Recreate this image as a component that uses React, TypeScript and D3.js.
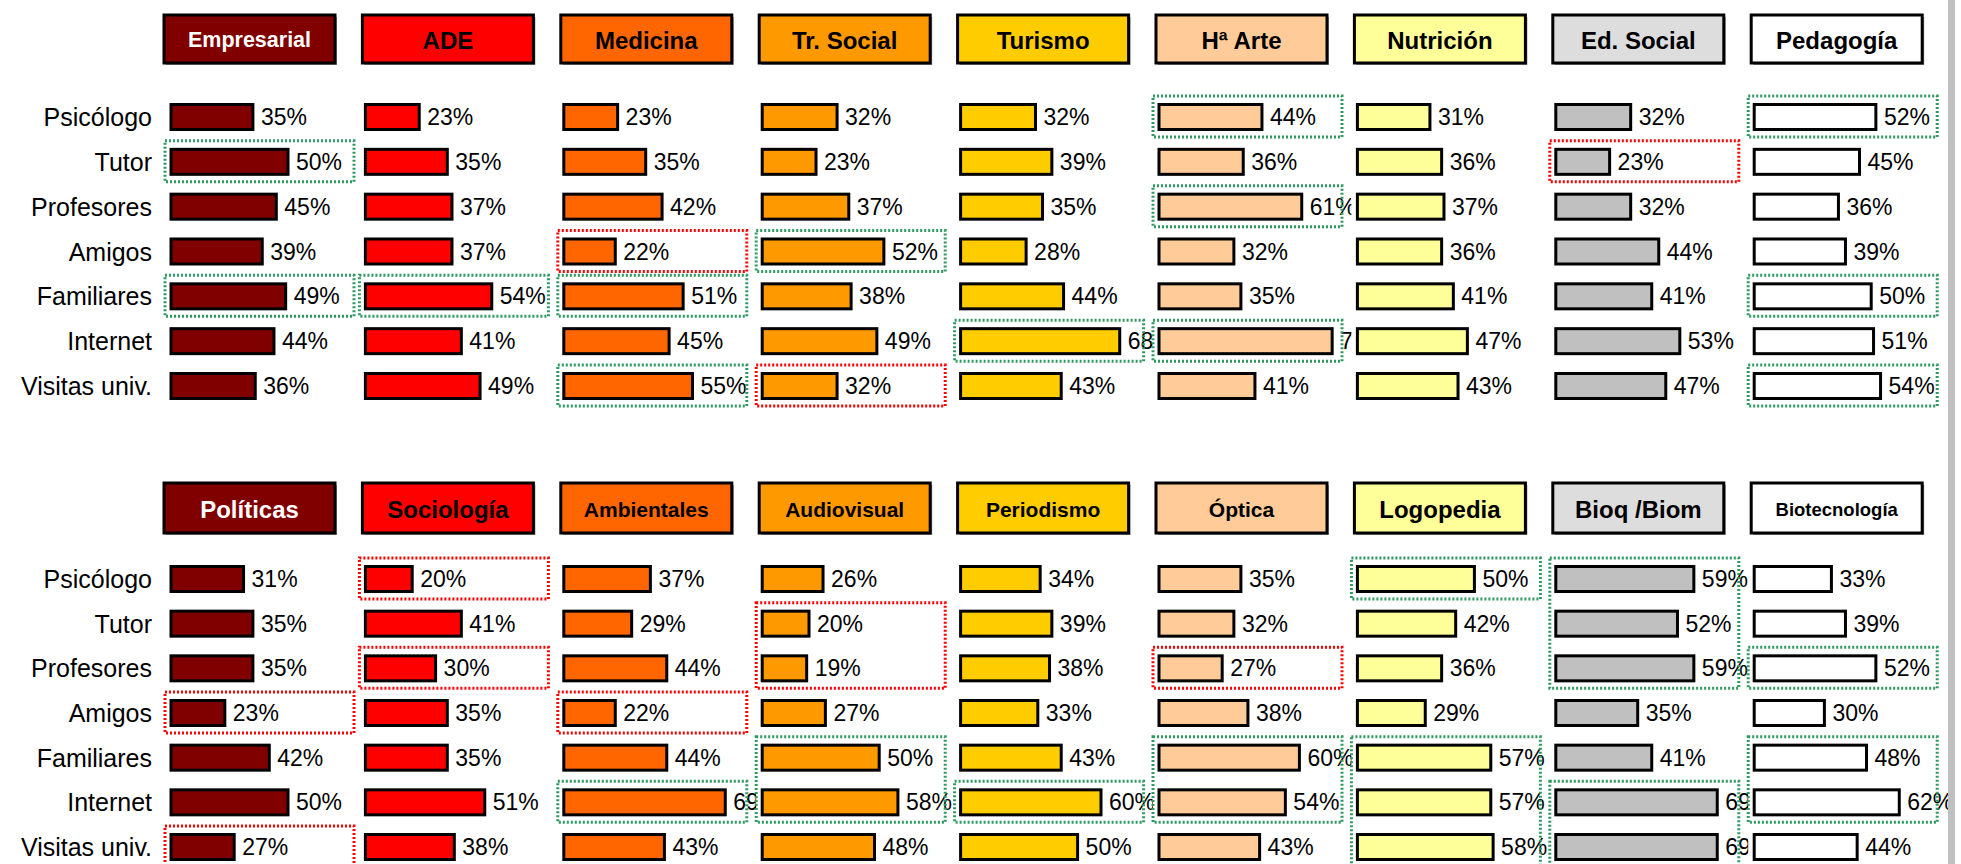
import React from "react";
import * as d3 from "d3";

// ---------- DATA ----------
const ROWS = ["Psicólogo", "Tutor", "Profesores", "Amigos", "Familiares", "Internet", "Visitas univ."];

const TOP_CATEGORIES = ["Empresarial", "ADE", "Medicina", "Tr. Social", "Turismo", "Hª Arte", "Nutrición", "Ed. Social", "Pedagogía"];
const BOTTOM_CATEGORIES = ["Políticas", "Sociología", "Ambientales", "Audiovisual", "Periodismo", "Óptica", "Logopedia", "Bioq /Biom", "Biotecnología"];

// values per category, in ROWS order (%)
const EMPRESARIAL = [35, 50, 45, 39, 49, 44, 36];
const ADE = [23, 35, 37, 37, 54, 41, 49];
const MEDICINA = [23, 35, 42, 22, 51, 45, 55];
const TR_SOCIAL = [32, 23, 37, 52, 38, 49, 32];
const TURISMO = [32, 39, 35, 28, 44, 68, 43];
const HA_ARTE = [44, 36, 61, 32, 35, 74, 41];
const NUTRICION = [31, 36, 37, 36, 41, 47, 43];
const ED_SOCIAL = [32, 23, 32, 44, 41, 53, 47];
const PEDAGOGIA = [52, 45, 36, 39, 50, 51, 54];

const POLITICAS = [31, 35, 35, 23, 42, 50, 27];
const SOCIOLOGIA = [20, 41, 30, 35, 35, 51, 38];
const AMBIENTALES = [37, 29, 44, 22, 44, 69, 43];
const AUDIOVISUAL = [26, 20, 19, 27, 50, 58, 48];
const PERIODISMO = [34, 39, 38, 33, 43, 60, 50];
const OPTICA = [35, 32, 27, 38, 60, 54, 43];
const LOGOPEDIA = [50, 42, 36, 29, 57, 57, 58];
const BIOQ = [59, 52, 59, 35, 41, 69, 69];
const BIOTECNOLOGIA = [33, 39, 52, 30, 48, 62, 44];

const TOP_VALUES = [EMPRESARIAL, ADE, MEDICINA, TR_SOCIAL, TURISMO, HA_ARTE, NUTRICION, ED_SOCIAL, PEDAGOGIA];
const BOTTOM_VALUES = [POLITICAS, SOCIOLOGIA, AMBIENTALES, AUDIOVISUAL, PERIODISMO, OPTICA, LOGOPEDIA, BIOQ, BIOTECNOLOGIA];

// highlighted cells: [category, first row, last row, "high" | "low"]
const TOP_HIGHLIGHTS: [string, string, string, string][] = [
  ["Empresarial", "Tutor", "Tutor", "high"],
  ["Empresarial", "Familiares", "Familiares", "high"],
  ["ADE", "Familiares", "Familiares", "high"],
  ["Medicina", "Amigos", "Amigos", "low"],
  ["Medicina", "Familiares", "Familiares", "high"],
  ["Medicina", "Visitas univ.", "Visitas univ.", "high"],
  ["Tr. Social", "Amigos", "Amigos", "high"],
  ["Tr. Social", "Visitas univ.", "Visitas univ.", "low"],
  ["Turismo", "Internet", "Internet", "high"],
  ["Hª Arte", "Psicólogo", "Psicólogo", "high"],
  ["Hª Arte", "Profesores", "Profesores", "high"],
  ["Hª Arte", "Internet", "Internet", "high"],
  ["Ed. Social", "Tutor", "Tutor", "low"],
  ["Pedagogía", "Psicólogo", "Psicólogo", "high"],
  ["Pedagogía", "Familiares", "Familiares", "high"],
  ["Pedagogía", "Visitas univ.", "Visitas univ.", "high"],
];
const BOTTOM_HIGHLIGHTS: [string, string, string, string][] = [
  ["Políticas", "Amigos", "Amigos", "low"],
  ["Políticas", "Visitas univ.", "Visitas univ.", "low"],
  ["Sociología", "Psicólogo", "Psicólogo", "low"],
  ["Sociología", "Profesores", "Profesores", "low"],
  ["Ambientales", "Amigos", "Amigos", "low"],
  ["Ambientales", "Internet", "Internet", "high"],
  ["Audiovisual", "Tutor", "Profesores", "low"],
  ["Audiovisual", "Familiares", "Internet", "high"],
  ["Periodismo", "Internet", "Internet", "high"],
  ["Óptica", "Profesores", "Profesores", "low"],
  ["Óptica", "Familiares", "Internet", "high"],
  ["Logopedia", "Psicólogo", "Psicólogo", "high"],
  ["Logopedia", "Familiares", "Visitas univ.", "high"],
  ["Bioq /Biom", "Psicólogo", "Profesores", "high"],
  ["Bioq /Biom", "Internet", "Visitas univ.", "high"],
  ["Biotecnología", "Profesores", "Profesores", "high"],
  ["Biotecnología", "Familiares", "Internet", "high"],
];

// ---------- STYLE ----------
const BAR_COLORS = ["#800000", "#FF0000", "#FF6600", "#FF9900", "#FFCC00", "#FFCC99", "#FFFF99", "#C0C0C0", "#FFFFFF"];
const HEADER_COLORS = ["#800000", "#FF0000", "#FF6600", "#FF9900", "#FFCC00", "#FFCC99", "#FFFF99", "#DDDDDD", "#FFFFFF"];
const HEADER_TEXT = ["#FFFFFF", "#000000", "#000000", "#000000", "#000000", "#000000", "#000000", "#000000", "#000000"];
const TOP_HEADER_SIZES = [21.5, 24, 24, 24, 24, 24, 24, 24, 24];
const BOTTOM_HEADER_SIZES = [24, 24, 21, 21, 21, 21, 24, 24, 18.5];
const HL_COLORS: Record<string, string> = { high: "#2E9960", low: "#FF0000" };

const W = 1961;
const H = 864;
const FONT = "Arial, 'Liberation Sans', sans-serif";

const colScale = d3.scalePoint<number>().domain(d3.range(9)).range([164, 164 + 8 * 198.4]);
const xScale = d3.scaleLinear().domain([0, 100]).range([0, 234]);
const HEADER_W = 171;
const BAR_H = 25;

type PanelProps = {
  categories: string[];
  values: number[][];
  highlights: [string, string, string, string][];
  headerTop: number;
  headerBottom: number;
  rowRange: [number, number];
  headerSizes: number[];
};

function Panel({ categories, values, highlights, headerTop, headerBottom, rowRange, headerSizes }: PanelProps) {
  const yScale = d3.scalePoint<string>().domain(ROWS).range(rowRange);
  const first = yScale(ROWS[0])!;
  const last = yScale(ROWS[ROWS.length - 1])!;
  return (
    <g>
      {ROWS.map((r) => (
        <text key={r} x={152} y={yScale(r)!} textAnchor="end" dominantBaseline="central"
          fontFamily={FONT} fontSize={25} fill="#000">{r}</text>
      ))}
      {categories.map((cat, ci) => {
        const hx = colScale(ci)!;
        const bx = hx + (ci === 0 ? 7 : 3);
        const hls = highlights.filter((h) => h[0] === cat);
        return (
          <g key={cat}>
            <rect x={hx + 2} y={headerTop + 2} width={HEADER_W} height={headerBottom - headerTop} fill="#9a9a9a" />
            <rect x={hx} y={headerTop} width={HEADER_W} height={headerBottom - headerTop}
              fill={HEADER_COLORS[ci]} stroke="#000" strokeWidth={3} />
            <text x={hx + HEADER_W / 2} y={(headerTop + headerBottom) / 2 + 1} textAnchor="middle"
              dominantBaseline="central" fontFamily={FONT} fontWeight="bold" fontSize={headerSizes[ci]}
              fill={HEADER_TEXT[ci]}>{cat}</text>
            <rect x={bx - 6} y={first - 26} width={198} height={last - first + 52} fill="#fff" />
            {ROWS.map((r, ri) => {
              const v = values[ci][ri];
              const y = yScale(r)!;
              return (
                <g key={r}>
                  <rect x={bx} y={y - BAR_H / 2} width={xScale(v)} height={BAR_H}
                    fill={BAR_COLORS[ci]} stroke="#000" strokeWidth={3} />
                  <text x={bx + xScale(v) + 8} y={y} dominantBaseline="central"
                    fontFamily={FONT} fontSize={23} fill="#000">{v}%</text>
                </g>
              );
            })}
            {hls.map((h, hi) => {
              const y0 = yScale(h[1])! - 21;
              const y1 = yScale(h[2])! + 20;
              return (
                <rect key={hi} x={bx - 6} y={y0} width={189} height={y1 - y0} fill="none"
                  stroke={HL_COLORS[h[3]]} strokeWidth={3} strokeDasharray="2 2" />
              );
            })}
          </g>
        );
      })}
    </g>
  );
}

export default function App() {
  return (
    <svg width={W} height={H} style={{ position: "absolute", left: 0, top: 0, background: "#fff" }}>
      <rect x={0} y={0} width={W} height={H} fill="#fff" />
      <Panel categories={TOP_CATEGORIES} values={TOP_VALUES} highlights={TOP_HIGHLIGHTS}
        headerTop={15} headerBottom={63} rowRange={[117, 386]} headerSizes={TOP_HEADER_SIZES} />
      <Panel categories={BOTTOM_CATEGORIES} values={BOTTOM_VALUES} highlights={BOTTOM_HIGHLIGHTS}
        headerTop={483} headerBottom={533} rowRange={[579, 847]} headerSizes={BOTTOM_HEADER_SIZES} />
      <rect x={1948} y={0} width={7} height={H} fill="#C0C0C0" />
    </svg>
  );
}
